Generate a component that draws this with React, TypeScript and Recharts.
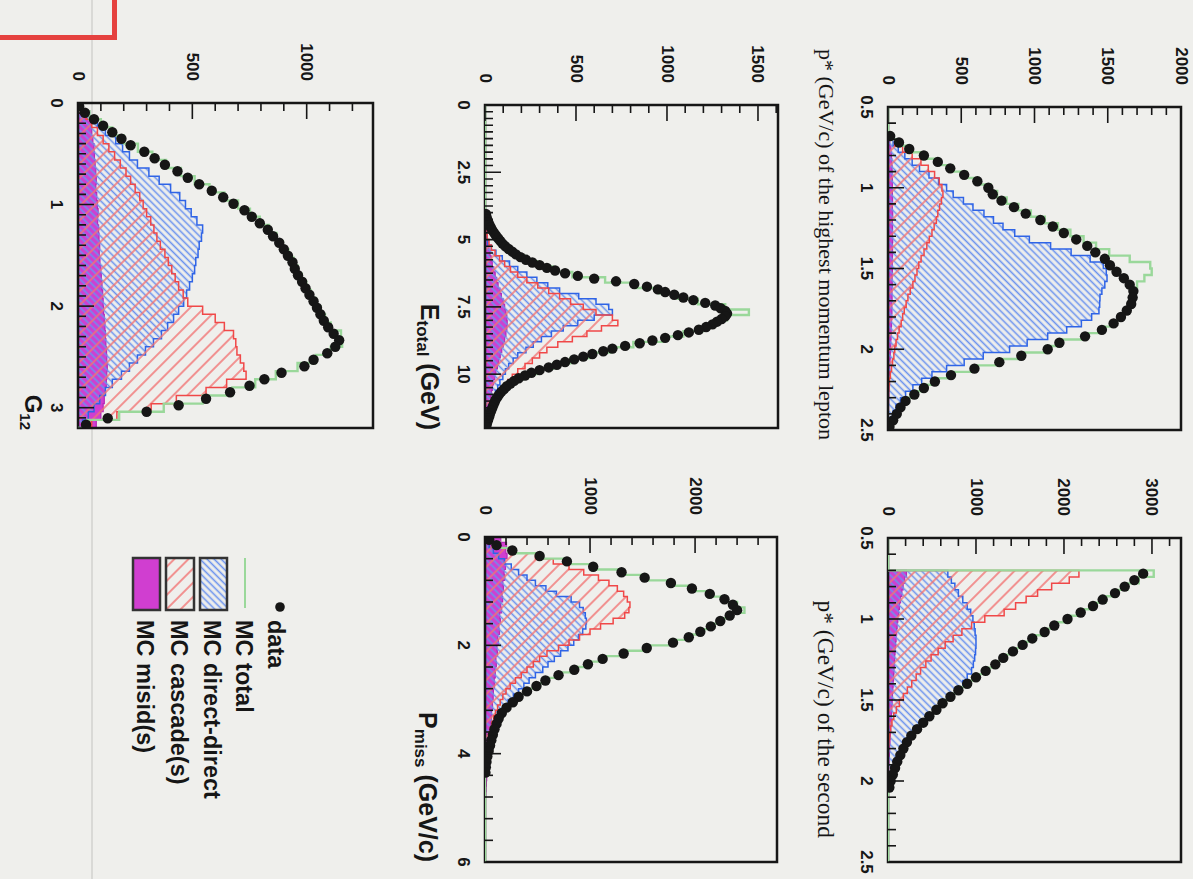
import React from 'react';
import { ComposedChart, Area, Line, Scatter, XAxis, YAxis, ReferenceArea } from 'recharts';

const SANS = '"Liberation Sans", Arial, Helvetica, sans-serif';
const SERIF = '"Liberation Serif", "Times New Roman", Times, serif';
const BG = '#efefec';
const INK = '#161616';
const BLUE_LINE = '#2f64e6';
const BLUE_HATCH = '#6b92ee';
const RED_LINE = '#f04848';
const RED_HATCH = '#f27272';
const MAGENTA = '#d03ed0';
const MAGENTA_LINE = '#b62ab6';
const GREEN = '#9ad89a';

// ---------- Panel A: p* of the highest momentum lepton ----------
const pEdges = [0.5, 0.54, 0.58, 0.62, 0.66, 0.7, 0.74, 0.78, 0.82, 0.86,
  0.9, 0.94, 0.98, 1.02, 1.06, 1.1, 1.14, 1.18, 1.22, 1.26,
  1.3, 1.34, 1.38, 1.42, 1.46, 1.5, 1.54, 1.58, 1.62, 1.66,
  1.7, 1.74, 1.78, 1.82, 1.86, 1.9, 1.94, 1.98, 2.02, 2.06,
  2.1, 2.14, 2.18, 2.22, 2.26, 2.3, 2.34, 2.38, 2.42, 2.46, 2.5];
const hiData = [0, 0, 0, 0, 15, 75, 145, 245, 340, 425, 520, 610, 685, 715, 775, 860, 940, 1040, 1125, 1200,
  1285, 1360, 1415, 1480, 1515, 1560, 1610, 1650, 1675, 1670, 1660, 1630, 1590, 1540, 1460, 1345, 1170, 1090, 910, 760,
  590, 430, 320, 245, 180, 120, 85, 60, 35, 10];
const hiTotal = [0, 0, 0, 0, 20, 80, 150, 250, 350, 440, 535, 620, 700, 745, 810, 890, 975, 1070, 1160, 1245,
  1335, 1420, 1510, 1650, 1790, 1800, 1750, 1700, 1690, 1675, 1665, 1640, 1590, 1540, 1460, 1340, 1180, 1080, 900, 750,
  590, 440, 320, 240, 175, 120, 80, 55, 30, 10];
const hiDirect = [0, 0, 0, 0, 10, 35, 70, 115, 165, 215, 280, 345, 400, 445, 515, 580, 655, 720, 785, 865,
  965, 1110, 1250, 1380, 1470, 1490, 1495, 1480, 1460, 1447, 1445, 1440, 1390, 1320, 1220, 1090, 950, 830, 650, 520,
  400, 300, 230, 170, 120, 85, 55, 35, 15, 5];
const hiCascade = [0, 0, 0, 0, 8, 45, 100, 165, 225, 275, 318, 350, 368, 375, 365, 352, 340, 330, 315, 300,
  282, 265, 246, 226, 210, 198, 184, 170, 152, 136, 124, 111, 100, 90, 76, 65, 55, 46, 40, 31,
  24, 16, 10, 6, 3, 0, 0, 0, 0, 0];
const hiMisid = [0, 0, 0, 0, 4, 12, 20, 24, 26, 28, 28, 30, 30, 30, 31, 30, 32, 30, 31, 30,
  32, 30, 31, 30, 29, 30, 28, 29, 27, 28, 26, 27, 25, 24, 22, 21, 19, 18, 16, 14,
  12, 10, 9, 7, 6, 5, 4, 3, 2, 0];

// ---------- Panel B: p* of the second lepton ----------
const secData = [0, 0, 0, 0, 0, 2900, 2800, 2690, 2580, 2440, 2330, 2190, 2040, 1890, 1780, 1640, 1530, 1420, 1310, 1220,
  1110, 1000, 900, 800, 710, 620, 550, 470, 400, 330, 265, 215, 175, 140, 105, 80, 55, 30, 15, 0,
  0, 0, 0, 0, 0, 0, 0, 0, 0, 0];
const secTotal = [0, 0, 0, 0, 0, 3020, 2850, 2720, 2600, 2470, 2350, 2210, 2060, 1910, 1790, 1660, 1540, 1430, 1320, 1220,
  1110, 1000, 900, 800, 710, 625, 545, 470, 400, 330, 270, 215, 170, 130, 100, 70, 45, 25, 10, 0,
  0, 0, 0, 0, 0, 0, 0, 0, 0, 0];
const secDirect = [0, 0, 0, 0, 0, 680, 720, 760, 800, 850, 900, 940, 965, 980, 990, 1000, 1000, 995, 985, 970,
  950, 900, 850, 770, 690, 610, 540, 465, 395, 330, 265, 210, 165, 125, 90, 62, 38, 18, 6, 0,
  0, 0, 0, 0, 0, 0, 0, 0, 0, 0];
const secCascade = [0, 0, 0, 0, 0, 2170, 2060, 1860, 1700, 1570, 1450, 1320, 1100, 950, 840, 740, 650, 570, 490, 430,
  370, 320, 270, 220, 175, 130, 95, 65, 45, 30, 20, 10, 5, 0, 0, 0, 0, 0, 0, 0,
  0, 0, 0, 0, 0, 0, 0, 0, 0, 0];
const secMisid = [0, 0, 0, 0, 0, 210, 190, 172, 158, 142, 130, 121, 112, 104, 98, 92, 86, 80, 76, 72,
  68, 63, 59, 55, 51, 47, 43, 39, 35, 31, 27, 23, 19, 16, 12, 9, 6, 4, 2, 0,
  0, 0, 0, 0, 0, 0, 0, 0, 0, 0];

// ---------- Panel C: E_total ----------
const eEdges = [0, 0.2, 0.4, 0.6, 0.8, 1, 1.2, 1.4, 1.6, 1.8, 2, 2.2, 2.4, 2.6, 2.8, 3, 3.2, 3.4, 3.6, 3.8,
  4, 4.2, 4.4, 4.6, 4.8, 5, 5.2, 5.4, 5.6, 5.8, 6, 6.2, 6.4, 6.6, 6.8, 7, 7.2, 7.4, 7.6, 7.8,
  8, 8.2, 8.4, 8.6, 8.8, 9, 9.2, 9.4, 9.6, 9.8, 10, 10.2, 10.4, 10.6, 10.8, 11, 11.2, 11.4, 11.6, 11.8, 12];
// data points use finer bins (0.1 GeV) from 4 to 12
const eDataEdges = [4, 4.1, 4.2, 4.3, 4.4, 4.5, 4.6, 4.7, 4.8, 4.9, 5, 5.1, 5.2, 5.3, 5.4, 5.5, 5.6, 5.7, 5.8, 5.9,
  6, 6.1, 6.2, 6.3, 6.4, 6.5, 6.6, 6.7, 6.8, 6.9, 7, 7.1, 7.2, 7.3, 7.4, 7.5, 7.6, 7.7, 7.8, 7.9,
  8, 8.1, 8.2, 8.3, 8.4, 8.5, 8.6, 8.7, 8.8, 8.9, 9, 9.1, 9.2, 9.3, 9.4, 9.5, 9.6, 9.7, 9.8, 9.9,
  10, 10.1, 10.2, 10.3, 10.4, 10.5, 10.6, 10.7, 10.8, 10.9, 11, 11.1, 11.2, 11.3, 11.4, 11.5, 11.6, 11.7, 11.8, 11.9, 12];
const eData = [5, 8, 12, 18, 24, 32, 40, 50, 60, 72,
  84, 96, 112, 130, 150, 170, 195, 225, 260, 300,
  340, 385, 440, 510, 600, 720, 820, 890, 950, 990,
  1040, 1090, 1145, 1210, 1265, 1295, 1320, 1330, 1320, 1300,
  1275, 1250, 1215, 1175, 1120, 1060, 990, 920, 850, 770,
  700, 650, 590, 540, 490, 440, 395, 350, 300, 255,
  220, 185, 160, 140, 120, 105, 90, 78, 68, 58,
  52, 46, 40, 34, 28, 24, 19, 14, 10, 6];
const eTotal = [0, 0, 0, 0, 0, 0, 0, 0, 0, 0, 0, 0, 0, 0, 0, 0, 0, 0, 0, 0,
  10, 20, 32, 46, 64, 88, 120, 162, 218, 285, 372, 480, 660, 830, 955, 1060, 1170, 1320, 1450, 1330,
  1270, 1200, 1090, 975, 815, 690, 575, 470, 375, 285, 205, 150, 112, 82, 60, 44, 32, 22, 14, 8];
const eDirect = [0, 0, 0, 0, 0, 0, 0, 0, 0, 0, 0, 0, 0, 0, 0, 0, 0, 0, 0, 0,
  0, 0, 0, 0, 5, 15, 35, 60, 95, 135, 180, 230, 285, 345, 410, 515, 610, 680, 700, 600,
  510, 430, 365, 310, 265, 225, 180, 155, 130, 112, 98, 82, 70, 58, 46, 36, 26, 18, 10, 5];
const eCascade = [0, 0, 0, 0, 0, 0, 0, 0, 0, 0, 0, 0, 0, 0, 0, 0, 0, 0, 0, 0,
  0, 0, 0, 5, 12, 22, 35, 55, 80, 108, 140, 180, 230, 290, 350, 410, 470, 540, 610, 700,
  730, 640, 560, 480, 400, 340, 300, 260, 220, 180, 150, 125, 105, 85, 70, 55, 45, 35, 25, 15];
const eMisid = [0, 0, 0, 0, 0, 0, 0, 0, 0, 0, 0, 0, 0, 0, 0, 0, 0, 0, 0, 0,
  0, 0, 5, 8, 12, 16, 22, 28, 34, 40, 48, 56, 64, 72, 82, 90, 100, 108, 115, 120,
  122, 120, 115, 108, 100, 92, 84, 76, 68, 60, 54, 47, 41, 36, 31, 26, 21, 16, 11, 6];

// ---------- Panel D: P_miss ----------
const mEdges = [0, 0.1, 0.2, 0.3, 0.4, 0.5, 0.6, 0.7, 0.8, 0.9, 1, 1.1, 1.2, 1.3, 1.4, 1.5, 1.6, 1.7, 1.8, 1.9,
  2, 2.1, 2.2, 2.3, 2.4, 2.5, 2.6, 2.7, 2.8, 2.9, 3, 3.1, 3.2, 3.3, 3.4, 3.5, 3.6, 3.7, 3.8, 3.9,
  4, 4.1, 4.2, 4.3, 4.4, 4.5, 4.6, 4.7, 4.8, 4.9, 5, 5.1, 5.2, 5.3, 5.4, 5.5, 5.6, 5.7, 5.8, 5.9, 6];
const mData = [40, 110, 260, 520, 780, 1030, 1300, 1520, 1770, 1970, 2140, 2280, 2360, 2400, 2330, 2240, 2150, 2050, 1940, 1790,
  1540, 1320, 1120, 980, 850, 700, 575, 490, 400, 320, 265, 205, 160, 130, 110, 90, 75, 60, 48, 35,
  22, 14, 8, 4, 0, 0, 0, 0, 0, 0, 0, 0, 0, 0, 0, 0, 0, 0, 0, 0];
const mTotal = [60, 140, 280, 530, 790, 1040, 1300, 1530, 1780, 1980, 2150, 2290, 2400, 2470, 2350, 2250, 2150, 2050, 1930, 1780,
  1540, 1320, 1130, 980, 845, 700, 580, 485, 395, 320, 260, 205, 162, 130, 108, 88, 72, 58, 46, 34,
  22, 14, 8, 4, 0, 0, 0, 0, 0, 0, 0, 0, 0, 0, 0, 0, 0, 0, 0, 0];
const mDirect = [10, 40, 80, 130, 185, 250, 320, 400, 480, 580, 680, 820, 900, 935, 955, 965, 960, 930, 890, 845,
  790, 720, 660, 600, 550, 480, 420, 370, 320, 270, 220, 180, 145, 115, 90, 70, 52, 38, 26, 16,
  8, 0, 0, 0, 0, 0, 0, 0, 0, 0, 0, 0, 0, 0, 0, 0, 0, 0, 0, 0];
const mCascade = [25, 110, 250, 480, 650, 800, 940, 1080, 1180, 1260, 1320, 1355, 1380, 1370, 1330, 1220, 1100, 1000, 900, 800,
  700, 590, 520, 460, 400, 345, 290, 240, 200, 170, 145, 120, 100, 82, 65, 50, 38, 28, 20, 12,
  6, 0, 0, 0, 0, 0, 0, 0, 0, 0, 0, 0, 0, 0, 0, 0, 0, 0, 0, 0];
const mMisid = [150, 205, 198, 210, 190, 195, 182, 188, 170, 176, 162, 168, 150, 158, 140, 146, 132, 138, 122, 128,
  114, 118, 104, 108, 96, 98, 88, 90, 80, 78, 70, 72, 62, 60, 55, 52, 46, 44, 38, 35,
  30, 27, 24, 20, 16, 13, 10, 7, 4, 0, 0, 0, 0, 0, 0, 0, 0, 0, 0, 0];

// ---------- Panel E: G_12 ----------
const gEdges = [0, 0.08, 0.16, 0.24, 0.32, 0.4, 0.48, 0.56, 0.64, 0.72, 0.8, 0.88, 0.96, 1.04, 1.12, 1.2, 1.28, 1.36, 1.44, 1.52,
  1.6, 1.68, 1.76, 1.84, 1.92, 2, 2.08, 2.16, 2.24, 2.32, 2.4, 2.48, 2.56, 2.64, 2.72, 2.8, 2.88, 2.96, 3.04, 3.12, 3.2];
// data points use 50 bins over 0..3.2
const gDataEdges = [0, 0.064, 0.128, 0.192, 0.256, 0.32, 0.384, 0.448, 0.512, 0.576,
  0.64, 0.704, 0.768, 0.832, 0.896, 0.96, 1.024, 1.088, 1.152, 1.216,
  1.28, 1.344, 1.408, 1.472, 1.536, 1.6, 1.664, 1.728, 1.792, 1.856,
  1.92, 1.984, 2.048, 2.112, 2.176, 2.24, 2.304, 2.368, 2.432, 2.496,
  2.56, 2.624, 2.688, 2.752, 2.816, 2.88, 2.944, 3.008, 3.072, 3.136, 3.2];
const gData = [5, 30, 70, 110, 150, 190, 230, 290, 335, 380,
  435, 480, 530, 585, 635, 680, 728, 760, 795, 830,
  853, 880, 900, 918, 938, 948, 962, 980, 995, 1012,
  1030, 1045, 1060, 1075, 1094, 1118, 1142, 1125, 1090, 1030,
  990, 890, 815, 750, 665, 560, 440, 300, 130, 35];
const gTotal = [12, 50, 100, 150, 200, 262, 325, 385, 450, 510, 575, 640, 700, 752, 795, 835, 868, 896, 920, 942,
  960, 978, 998, 1018, 1040, 1060, 1080, 1105, 1150, 1155, 1105, 1040, 960, 865, 775, 675, 545, 375, 180, 40];
const gDirect = [15, 50, 85, 120, 165, 195, 225, 260, 310, 355, 405, 445, 470, 495, 520, 545, 540, 530, 525, 515,
  510, 500, 488, 475, 462, 440, 418, 392, 365, 330, 295, 260, 225, 190, 150, 120, 95, 70, 45, 20];
const gCascade = [10, 35, 60, 85, 110, 135, 160, 185, 210, 230, 250, 270, 285, 300, 318, 332, 345, 360, 380, 395,
  410, 425, 440, 460, 480, 545, 600, 640, 680, 690, 695, 710, 725, 735, 650, 560, 430, 320, 170, 60];
const gMisid = [10, 40, 55, 60, 65, 70, 72, 75, 78, 80, 78, 82, 85, 88, 86, 90, 92, 95, 93, 96,
  100, 102, 105, 108, 110, 112, 115, 118, 120, 122, 125, 126, 128, 126, 124, 120, 115, 110, 100, 80];

// ---------- axis tick labels ----------
const pXMajor = [0.5, 1, 1.5, 2, 2.5];
const pXLabels = ['0.5', '1', '1.5', '2', '2.5'];
const eXMajor = [0, 2.5, 5, 7.5, 10];
const eXLabels = ['0', '2.5', '5', '7.5', '10'];
const mXMajor = [0, 2, 4, 6];
const mXLabels = ['0', '2', '4', '6'];
const gXMajor = [0, 1, 2, 3];
const gXLabels = ['0', '1', '2', '3'];
const hiYMajor = [0, 500, 1000, 1500, 2000];
const hiYLabels = ['0', '500', '1000', '1500', '2000'];
const secYMajor = [0, 1000, 2000, 3000];
const secYLabels = ['0', '1000', '2000', '3000'];
const eYMajor = [0, 500, 1000, 1500];
const eYLabels = ['0', '500', '1000', '1500'];
const mYMajor = [0, 1000, 2000];
const mYLabels = ['0', '1000', '2000'];
const gYMajor = [0, 500, 1000];
const gYLabels = ['0', '500', '1000'];

type PanelCfg = {
  id: string;
  rect: [number, number, number, number];
  xDomain: [number, number];
  xMinor: number;
  xMajor: number[];
  xLabels: string[];
  yMax: number;
  yMinor: number;
  yMinorEnd: number;
  yMajor: number[];
  yLabels: string[];
  edges: number[];
  dataEdges: number[];
  data: number[];
  total: number[];
  direct: number[];
  cascade: number[];
  misid: number[];
};

function tickGrid(start: number, end: number, step: number): number[] {
  const out: number[] = [];
  const n = Math.round((end - start) / step);
  for (let i = 0; i <= n; i++) out.push(Math.round((start + i * step) * 1e6) / 1e6);
  return out;
}

function labelFor(v: number, majors: number[], labels: string[]): string | null {
  for (let i = 0; i < majors.length; i++) if (Math.abs(majors[i] - v) < 1e-6) return labels[i];
  return null;
}

const XTick = (props: any) => {
  const { x, y, payload, majors, labels } = props;
  const lab = labelFor(payload.value, majors, labels);
  return (
    <g>
      <line x1={x} x2={x} y1={y} y2={y - (lab !== null ? 16 : 8)} stroke={INK} strokeWidth={1.6} />
      {lab !== null && (
        <text x={x} y={y + 22} textAnchor="middle" dominantBaseline="central" fontFamily={SANS}
          fontWeight="bold" fontSize={17} fill={INK}>{lab}</text>
      )}
    </g>
  );
};

const YTick = (props: any) => {
  const { x, y, payload, majors, labels } = props;
  const lab = labelFor(payload.value, majors, labels);
  return (
    <g>
      <line x1={x} x2={x + (lab !== null ? 16 : 8)} y1={y} y2={y} stroke={INK} strokeWidth={1.6} />
      {lab !== null && (
        <text x={x - 22} y={y} textAnchor="end" dominantBaseline="central" fontFamily={SANS}
          fontWeight="bold" fontSize={17} fill={INK}>{lab}</text>
      )}
    </g>
  );
};

const Dot = (props: any) => {
  const { cx, cy } = props;
  if (cx == null || cy == null) return null;
  return <circle cx={cx} cy={cy} r={5.2} fill={INK} />;
};

function Panel({ cfg }: { cfg: PanelCfg }) {
  const [L, T, W, H] = cfg.rect;
  const WY = 70, HX = 40, M = 15;
  const rows = cfg.edges.map((x, i) => {
    const last = i === cfg.edges.length - 1;
    return {
      x,
      misid: last ? 0 : cfg.misid[i],
      direct: last ? 0 : cfg.direct[i],
      cascade: last ? 0 : cfg.cascade[i],
      total: last ? 0 : cfg.total[i],
    };
  });
  const dots: { x: number; y: number }[] = [];
  cfg.data.forEach((v, i) => {
    if (v > 0) dots.push({ x: (cfg.dataEdges[i] + cfg.dataEdges[i + 1]) / 2, y: v });
  });
  const xTicks = tickGrid(cfg.xDomain[0], cfg.xDomain[1], cfg.xMinor);
  const yTicks = tickGrid(0, cfg.yMinorEnd, cfg.yMinor);
  const bid = `blueHatch${cfg.id}`;
  const rid = `redHatch${cfg.id}`;
  return (
    <div style={{ position: 'absolute', left: L - WY - M, top: T - M }}>
      <ComposedChart width={W + WY + 2 * M} height={H + HX + 2 * M} data={rows}
        margin={{ top: M, right: M, bottom: M, left: M }}>
        <defs>
          <pattern id={bid} patternUnits="userSpaceOnUse" width="5" height="5" patternTransform="rotate(45)">
            <line x1="2.5" y1="0" x2="2.5" y2="5" stroke={BLUE_HATCH} strokeWidth="1.6" />
          </pattern>
          <pattern id={rid} patternUnits="userSpaceOnUse" width="10" height="10" patternTransform="rotate(-45)">
            <line x1="5" y1="0" x2="5" y2="10" stroke={RED_HATCH} strokeWidth="1.5" />
          </pattern>
        </defs>
        <Area type="stepAfter" dataKey="misid" stroke={MAGENTA_LINE} strokeWidth={1.2} fill={MAGENTA}
          fillOpacity={1} isAnimationActive={false} dot={false} activeDot={false} />
        <Area type="stepAfter" dataKey="direct" stroke={BLUE_LINE} strokeWidth={1.5} fill={`url(#${bid})`}
          fillOpacity={1} isAnimationActive={false} dot={false} activeDot={false} />
        <Area type="stepAfter" dataKey="cascade" stroke={RED_LINE} strokeWidth={1.5} fill={`url(#${rid})`}
          fillOpacity={1} isAnimationActive={false} dot={false} activeDot={false} />
        <Line type="stepAfter" dataKey="total" stroke={GREEN} strokeWidth={2.4} dot={false} activeDot={false}
          isAnimationActive={false} />
        <Scatter data={dots} dataKey="y" fill={INK} shape={(p: any) => <Dot {...p} />} isAnimationActive={false} />
        <ReferenceArea x1={cfg.xDomain[0]} x2={cfg.xDomain[1]} y1={0} y2={cfg.yMax} fill="none"
          fillOpacity={0} stroke={INK} strokeWidth={2.5} ifOverflow="visible" />
        <XAxis type="number" dataKey="x" domain={cfg.xDomain} allowDataOverflow ticks={xTicks} interval={0}
          height={HX} axisLine={false} tickLine={false} tickSize={0} tickMargin={0}
          tick={(p: any) => <XTick {...p} majors={cfg.xMajor} labels={cfg.xLabels} />} />
        <YAxis type="number" domain={[0, cfg.yMax]} allowDataOverflow ticks={yTicks} interval={0}
          width={WY} axisLine={false} tickLine={false} tickSize={0} tickMargin={0}
          tick={(p: any) => <YTick {...p} majors={cfg.yMajor} labels={cfg.yLabels} />} />
      </ComposedChart>
    </div>
  );
}

const panels: PanelCfg[] = [
  {
    id: 'A', rect: [107, 12, 323, 293], xDomain: [0.5, 2.5], xMinor: 0.1, xMajor: pXMajor, xLabels: pXLabels,
    yMax: 2000, yMinor: 100, yMinorEnd: 2000, yMajor: hiYMajor, yLabels: hiYLabels,
    edges: pEdges, dataEdges: pEdges, data: hiData, total: hiTotal, direct: hiDirect, cascade: hiCascade, misid: hiMisid,
  },
  {
    id: 'B', rect: [538, 12, 324, 293], xDomain: [0.5, 2.5], xMinor: 0.1, xMajor: pXMajor, xLabels: pXLabels,
    yMax: 3330, yMinor: 200, yMinorEnd: 3200, yMajor: secYMajor, yLabels: secYLabels,
    edges: pEdges, dataEdges: pEdges, data: secData, total: secTotal, direct: secDirect, cascade: secCascade, misid: secMisid,
  },
  {
    id: 'C', rect: [105, 415, 323, 293], xDomain: [0, 12], xMinor: 0.25, xMajor: eXMajor, xLabels: eXLabels,
    yMax: 1610, yMinor: 100, yMinorEnd: 1600, yMajor: eYMajor, yLabels: eYLabels,
    edges: eEdges, dataEdges: eDataEdges, data: eData, total: eTotal, direct: eDirect, cascade: eCascade, misid: eMisid,
  },
  {
    id: 'D', rect: [537, 416, 325, 292], xDomain: [0, 6], xMinor: 0.4, xMajor: mXMajor, xLabels: mXLabels,
    yMax: 2780, yMinor: 200, yMinorEnd: 2600, yMajor: mYMajor, yLabels: mYLabels,
    edges: mEdges, dataEdges: mEdges, data: mData, total: mTotal, direct: mDirect, cascade: mCascade, misid: mMisid,
  },
  {
    id: 'E', rect: [103, 820, 325, 295], xDomain: [0, 3.2], xMinor: 0.1, xMajor: gXMajor, xLabels: gXLabels,
    yMax: 1290, yMinor: 100, yMinorEnd: 1200, yMajor: gYMajor, yLabels: gYLabels,
    edges: gEdges, dataEdges: gDataEdges, data: gData, total: gTotal, direct: gDirect, cascade: gCascade, misid: gMisid,
  },
];

function Overlay() {
  const legFont = { fontFamily: SANS, fontWeight: 'bold' as const, fontSize: 23.5, fill: INK };
  return (
    <svg width={879} height={1193} style={{ position: 'absolute', left: 0, top: 0, overflow: 'visible' }}>
      <defs>
        <pattern id="legBlue" patternUnits="userSpaceOnUse" width="5" height="5" patternTransform="rotate(45)">
          <line x1="2.5" y1="0" x2="2.5" y2="5" stroke={BLUE_HATCH} strokeWidth="1.6" />
        </pattern>
        <pattern id="legRed" patternUnits="userSpaceOnUse" width="10" height="10" patternTransform="rotate(-45)">
          <line x1="5" y1="0" x2="5" y2="10" stroke={RED_HATCH} strokeWidth="1.5" />
        </pattern>
      </defs>
      {/* axis titles */}
      <text x={440} y={367} textAnchor="end" dominantBaseline="central" fontFamily={SERIF} fontSize={22} fill={INK}>
        p* (GeV/c) of the highest momentum lepton
      </text>
      <text x={838} y={367} textAnchor="end" dominantBaseline="central" fontFamily={SERIF} fontSize={23.5} fill={INK}>
        p* (GeV/c) of the second
      </text>
      <text x={430} y={763} textAnchor="end" dominantBaseline="central" fontFamily={SANS} fontWeight="bold"
        fontSize={25} fill={INK}>
        E<tspan dy={7} fontSize={17}>total</tspan><tspan dy={-7}> (GeV)</tspan>
      </text>
      <text x={862} y={765} textAnchor="end" dominantBaseline="central" fontFamily={SANS} fontWeight="bold"
        fontSize={25} fill={INK}>
        P<tspan dy={7} fontSize={17}>miss</tspan><tspan dy={-7}> (GeV/c)</tspan>
      </text>
      <text x={430} y={1160} textAnchor="end" dominantBaseline="central" fontFamily={SANS} fontWeight="bold"
        fontSize={24} fill={INK}>
        G<tspan dy={7} fontSize={15}>12</tspan>
      </text>
      {/* legend */}
      <circle cx={607} cy={913} r={4.8} fill={INK} />
      <text x={620} y={917} dominantBaseline="central" {...legFont}>data</text>
      <line x1={558} x2={608} y1={948} y2={948} stroke={GREEN} strokeWidth={2} />
      <text x={620} y={949} dominantBaseline="central" {...legFont}>MC total</text>
      <rect x={558} y={966} width={52} height={27} fill="url(#legBlue)" stroke="#333" strokeWidth={2.5} />
      <text x={620} y={981} dominantBaseline="central" {...legFont}>MC direct-direct</text>
      <rect x={558} y={999} width={52} height={28} fill="url(#legRed)" stroke="#333" strokeWidth={2.5} />
      <text x={620} y={1014} dominantBaseline="central" {...legFont}>MC cascade(s)</text>
      <rect x={558} y={1033} width={52} height={27} fill={MAGENTA} stroke="#333" strokeWidth={2.5} />
      <text x={620} y={1048} dominantBaseline="central" {...legFont}>MC misid(s)</text>
    </svg>
  );
}

export default function App() {
  return (
    <div style={{ position: 'fixed', left: 0, top: 0, width: 1193, height: 879, background: BG, overflow: 'hidden' }}>
      <div style={{ position: 'absolute', left: 91, top: 0, width: 2, height: 879, background: '#d9d9d6' }} />
      <div style={{
        position: 'absolute', left: 0, top: 0, width: 879, height: 1193,
        transformOrigin: '0 0', transform: 'translate(1193px, 0px) rotate(90deg)',
      }}>
        {panels.map((p) => <Panel key={p.id} cfg={p} />)}
        <Overlay />
      </div>
      <div style={{
        position: 'absolute', left: 0, top: 0, width: 112, height: 35,
        borderRight: '5px solid #e5413f', borderBottom: '5px solid #e5413f',
      }} />
    </div>
  );
}
